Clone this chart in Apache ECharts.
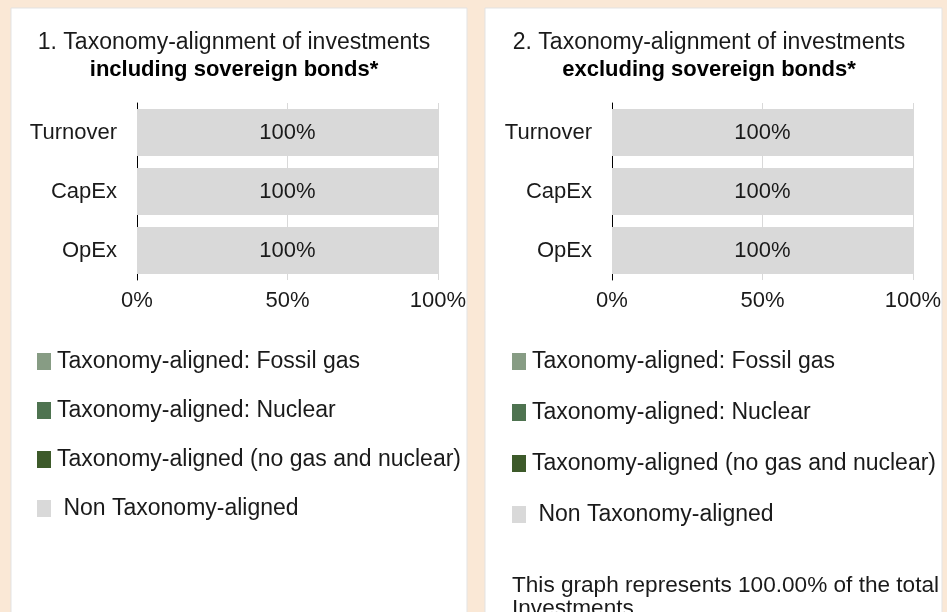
<!DOCTYPE html>
<html>
<head>
<meta charset="utf-8">
<script src="https://cdn.jsdelivr.net/npm/echarts@6/dist/echarts.min.js"></script>
<style>
  html, body { margin: 0; padding: 0; background: #FAE8D6; }
  #main { width: 947px; height: 612px; }
</style>
</head>
<body>
<div id="main"></div>
<script>
// data
var categories = ['Turnover', 'CapEx', 'OpEx']
var xTicks = [0, 50, 100]
var seriesNames = [
  'Taxonomy-aligned: Fossil gas',
  'Taxonomy-aligned: Nuclear',
  'Taxonomy-aligned (no gas and nuclear)',
  'Non Taxonomy-aligned'
]
var seriesColors = ['#879C84', '#4E7350', '#3D5A2A', '#D9D9D9']

// 1. including sovereign bonds
var fossilGas1 = [0, 0, 0]
var nuclear1 = [0, 0, 0]
var alignedNoGas1 = [0, 0, 0]
var nonAligned1 = [100, 100, 100]

// 2. excluding sovereign bonds
var fossilGas2 = [0, 0, 0]
var nuclear2 = [0, 0, 0]
var alignedNoGas2 = [0, 0, 0]
var nonAligned2 = [100, 100, 100]

var FONT = '"Liberation Sans", Arial, sans-serif'
var FS = 22      // axis + bar labels
var FS_BIG = 23  // titles + legend
var panels = [
  { x: 11, w: 456 },
  { x: 485, w: 457 }
]

function makeSeries(idx, lists) {
  return lists.map(function(vals, i) {
    return {
      name: seriesNames[i],
      type: 'bar',
      stack: 'total' + idx,
      xAxisIndex: idx,
      yAxisIndex: idx,
      data: vals,
      barCategoryGap: '20%',
      itemStyle: { color: seriesColors[i] },
      label: {
        show: i === 3,
        position: 'inside',
        formatter: '{c}%',
        fontFamily: FONT,
        fontSize: FS,
        color: '#1a1a1a'
      },
      emphasis: { disabled: true }
    }
  })
}

function makeXAxis(idx) {
  return {
    type: 'value',
    gridIndex: idx,
    min: 0,
    max: 100,
    interval: 50,
    axisLine: { show: false },
    axisTick: { show: false },
    splitLine: { show: true, lineStyle: { color: '#D9D9D9', width: 1 } },
    axisLabel: {
      formatter: function(v) { return xTicks.indexOf(v) >= 0 ? v + '%' : '' },
      fontFamily: FONT,
      fontSize: FS,
      color: '#1a1a1a',
      margin: 10
    }
  }
}

function makeYAxis(idx) {
  return {
    type: 'category',
    gridIndex: idx,
    data: categories,
    inverse: true,
    axisLine: { show: true, lineStyle: { color: '#000', width: 1 } },
    axisTick: { show: false },
    axisLabel: {
      fontFamily: FONT,
      fontSize: FS,
      color: '#1a1a1a',
      margin: 20
    }
  }
}

function legendLabel(name) {
  return name === 'Non Taxonomy-aligned' ? ' ' + name : name
}

function makeLegend(left, gap) {
  return {
    orient: 'vertical',
    left: left,
    top: 345,
    itemWidth: 14,
    itemHeight: 17,
    itemGap: gap,
    icon: 'rect',
    selectedMode: false,
    data: seriesNames,
    formatter: legendLabel,
    textStyle: { fontFamily: FONT, fontSize: FS_BIG, color: '#1a1a1a', padding: [0, 0, 0, 1] }
  }
}

function makeTitle(center, line1, line2) {
  return {
    text: line1,
    subtext: line2,
    left: center,
    top: 26,
    textAlign: 'center',
    itemGap: 5,
    textStyle: { fontFamily: FONT, fontSize: FS_BIG, fontWeight: 'normal', color: '#1a1a1a' },
    subtextStyle: { fontFamily: FONT, fontSize: FS, fontWeight: 'bold', color: '#000' }
  }
}

var chart = echarts.init(document.getElementById('main'))
chart.setOption({
  backgroundColor: '#FAE8D6',
  animation: false,
  graphic: [
    {
      type: 'rect',
      z: -10,
      shape: { x: panels[0].x, y: 8, width: panels[0].w, height: 620 },
      style: { fill: '#fff', stroke: '#E3E3E3', lineWidth: 1 }
    },
    {
      type: 'rect',
      z: -10,
      shape: { x: panels[1].x, y: 8, width: panels[1].w, height: 620 },
      style: { fill: '#fff', stroke: '#E3E3E3', lineWidth: 1 }
    },
    {
      type: 'text',
      left: 512,
      top: 574,
      style: {
        text: 'This graph represents 100.00% of the total\nInvestments',
        font: '22.6px ' + FONT,
        fill: '#1a1a1a',
        lineHeight: 23
      }
    }
  ],
  title: [
    makeTitle(229, '1. Taxonomy-alignment of investments', 'including sovereign bonds*'),
    makeTitle(704, '2. Taxonomy-alignment of investments', 'excluding sovereign bonds*')
  ],
  legend: [makeLegend(32, 26), makeLegend(507, 28)],
  grid: [
    { left: 137, width: 301, top: 103, height: 177 },
    { left: 612, width: 301, top: 103, height: 177 }
  ],
  xAxis: [makeXAxis(0), makeXAxis(1)],
  yAxis: [makeYAxis(0), makeYAxis(1)],
  series: makeSeries(0, [fossilGas1, nuclear1, alignedNoGas1, nonAligned1])
    .concat(makeSeries(1, [fossilGas2, nuclear2, alignedNoGas2, nonAligned2]))
})
</script>
</body>
</html>
